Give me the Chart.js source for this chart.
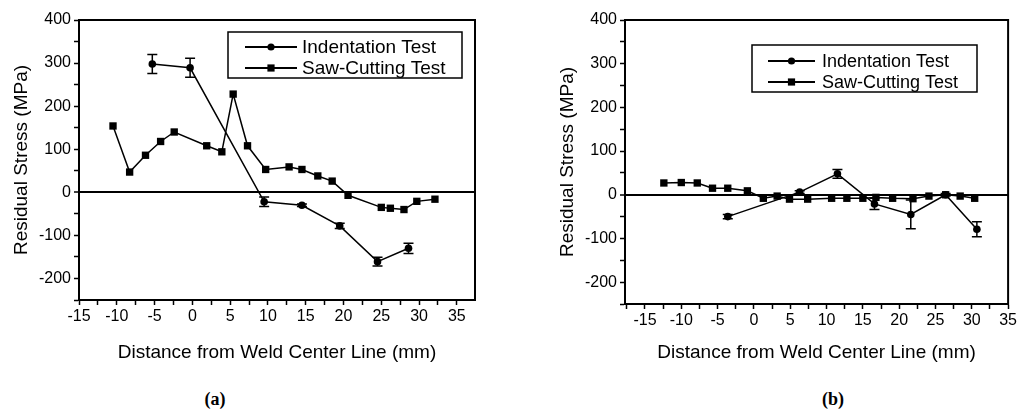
<!DOCTYPE html>
<html><head><meta charset="utf-8">
<script src="https://cdn.jsdelivr.net/npm/chart.js@4.4.0/dist/chart.umd.min.js"></script>
<style>
html,body{margin:0;padding:0;background:#fff;width:1019px;height:412px;overflow:hidden;}
#wa{position:absolute;left:0;top:0;width:500px;height:370px;}
#wb{position:absolute;left:546px;top:0;width:473px;height:370px;}
.cap{position:absolute;font-family:"Liberation Serif","Times New Roman",serif;font-weight:bold;font-size:18px;color:#000;transform:translateX(-50%);line-height:20px;}
</style></head>
<body>
<div id="wa"><canvas id="ca"></canvas></div>
<div id="wb"><canvas id="cb"></canvas></div>
<div class="cap" style="left:215px;top:389px">(a)</div>
<div class="cap" style="left:833px;top:389px">(b)</div>
<script>
// ---------- data ----------
const seriesNames = ["Indentation Test", "Saw-Cutting Test"];
const xTitle = "Distance from Weld Center Line (mm)";
const yTitle = "Residual Stress (MPa)";
const xTickValues = [-15, -10, -5, 0, 5, 10, 15, 20, 25, 30, 35];
const yTickValues = [-200, -100, 0, 100, 200, 300, 400];

// panel (a)
const aIndentX = [-5.3, -0.3, 9.5, 14.5, 19.5, 24.5, 28.6];
const aIndentY = [298, 289, -22, -30, -78, -161, -130];
const aIndentErr = [22, 22, 11, 3, 6, 10, 12];
const aSawX = [-10.5, -8.3, -6.2, -4.2, -2.4, 1.9, 3.9, 5.4, 7.3, 9.7, 12.8, 14.5, 16.6, 18.5, 20.6, 25.0, 26.2, 28.0, 29.7, 32.1];
const aSawY = [154, 47, 86, 118, 140, 108, 94, 228, 108, 53, 59, 53, 38, 26, -7, -35, -37, -40, -21, -16];

// panel (b)
const bIndentX = [-3.6, 6.3, 11.5, 16.6, 21.6, 26.4, 30.7];
const bIndentY = [-50, 6, 48, -21, -45, 0, -79];
const bIndentErr = [5, 3, 10, 13, 33, 3, 17];
const bSawX = [-12.4, -10.0, -7.8, -5.7, -3.6, -0.9, 1.3, 3.2, 4.9, 7.4, 10.7, 12.8, 15.0, 16.8, 19.1, 21.9, 24.1, 26.4, 28.4, 30.4];
const bSawY = [27, 28, 27, 15, 15, 9, -8, -3, -10, -10, -8, -8, -8, -6, -8, -9, -3, 0, -3, -8];

// ---------- helpers ----------
const FONT = '"Liberation Sans", Arial, Helvetica, sans-serif';
const zip = (xs, ys) => xs.map((x, i) => ({x: x, y: ys[i]}));

function drawMarker(ctx, style, x, y) {
  ctx.beginPath();
  if (style === 'circle') { ctx.arc(x, y, 3.6, 0, Math.PI * 2); }
  else { ctx.rect(x - 3.6, y - 3.6, 7.2, 7.2); }
  ctx.fill();
}

const decorPlugin = {
  id: 'decor',
  afterDatasetsDraw(chart) {
    const ctx = chart.ctx;
    const xs = chart.scales.x, ys = chart.scales.y;
    ctx.save();
    ctx.strokeStyle = '#000';
    ctx.lineWidth = 1.5;
    chart.data.datasets.forEach((ds, i) => {
      if (!ds.errors) return;
      ds.data.forEach((p, j) => {
        const e = ds.errors[j];
        const px = xs.getPixelForValue(p.x);
        const y1 = ys.getPixelForValue(p.y + e);
        const y2 = ys.getPixelForValue(p.y - e);
        ctx.beginPath();
        ctx.moveTo(px, y1); ctx.lineTo(px, y2);
        ctx.moveTo(px - 5, y1); ctx.lineTo(px + 5, y1);
        ctx.moveTo(px - 5, y2); ctx.lineTo(px + 5, y2);
        ctx.stroke();
      });
    });
    ctx.restore();
  },
  afterDraw(chart, args, opts) {
    const ctx = chart.ctx;
    const a = chart.chartArea;
    ctx.save();
    ctx.strokeStyle = '#000';
    ctx.lineWidth = 2;
    ctx.strokeRect(a.left, a.top, a.right - a.left, a.bottom - a.top);
    // legend
    const L = opts.legend;
    if (L) {
      ctx.fillStyle = '#fff';
      ctx.fillRect(L.box[0], L.box[1], L.box[2] - L.box[0], L.box[3] - L.box[1]);
      ctx.font = L.fontSize + 'px ' + FONT;
      ctx.textBaseline = 'middle';
      ctx.textAlign = 'left';
      chart.data.datasets.forEach((ds, i) => {
        const y = L.rows[i];
        ctx.strokeStyle = '#000'; ctx.lineWidth = 1.8;
        ctx.beginPath(); ctx.moveTo(L.line[0], y); ctx.lineTo(L.line[1], y); ctx.stroke();
        ctx.fillStyle = '#000';
        drawMarker(ctx, ds.pointStyle, (L.line[0] + L.line[1]) / 2, y);
        ctx.fillText(ds.label, L.textX, y + 1);
      });
      ctx.lineWidth = 1.5;
      ctx.strokeRect(L.box[0], L.box[1], L.box[2] - L.box[0], L.box[3] - L.box[1]);
    }
    ctx.restore();
  }
};

function makeChart(id, indX, indY, indErr, sawX, sawY, xmin, xmax, padRight, xHeight, legend) {
  return new Chart(document.getElementById(id), {
    type: 'line',
    data: {
      datasets: [
        {label: seriesNames[0], data: zip(indX, indY), errors: indErr,
         borderColor: '#000', backgroundColor: '#000', borderWidth: 1.5,
         pointStyle: 'circle', pointRadius: 3.8, pointBorderWidth: 0, tension: 0},
        {label: seriesNames[1], data: zip(sawX, sawY),
         borderColor: '#000', backgroundColor: '#000', borderWidth: 1.5,
         pointStyle: 'rect', pointRadius: 5.2, pointBorderWidth: 0, tension: 0}
      ]
    },
    options: {
      responsive: true,
      maintainAspectRatio: false,
      animation: false,
      layout: {padding: {left: 0, top: 20, right: padRight, bottom: 0}},
      plugins: {legend: {display: false}, tooltip: {enabled: false}, decor: {legend: legend}},
      scales: {
        x: {
          type: 'linear', min: xmin, max: xmax,
          afterFit: (s) => { s.height = xHeight; },
          border: {display: true, color: '#000', width: 2},
          grid: {drawOnChartArea: false, drawTicks: true, tickLength: 5, tickColor: '#000', tickWidth: 1.5, color: '#000'},
          ticks: {stepSize: 2.5, includeBounds: false, autoSkip: false, maxRotation: 0, maxTicksLimit: 100,
                  padding: 2, color: '#000', font: {family: FONT, size: 16},
                  callback: (v) => xTickValues.some(t => Math.abs(t - v) < 1e-6) ? String(Math.round(v)) : ''},
          title: {display: true, text: xTitle, color: '#000', font: {family: FONT, size: 19},
                  padding: {top: 0, bottom: 5.6}}
        },
        y: {
          type: 'linear', min: -250, max: 400,
          afterFit: (s) => { s.width = 79; },
          border: {display: true, color: '#000', width: 2},
          grid: {drawOnChartArea: true, drawTicks: true, tickLength: 5, tickColor: '#000', tickWidth: 1.5,
                 color: (c) => (c.tick && c.tick.value === 0) ? '#000' : 'rgba(0,0,0,0)',
                 lineWidth: (c) => (c.tick && c.tick.value === 0) ? 2 : 1},
          ticks: {stepSize: 50, autoSkip: false, maxTicksLimit: 100, padding: 3, color: '#000',
                  font: {family: FONT, size: 16},
                  callback: (v) => yTickValues.includes(v) ? String(v) : ''},
          title: {display: true, text: yTitle, color: '#000', font: {family: FONT, size: 19},
                  padding: {top: 10.6, bottom: 0}}
        }
      }
    },
    plugins: [decorPlugin]
  });
}

makeChart('ca', aIndentX, aIndentY, aIndentErr, aSawX, aSawY, -15, 37.4, 25, 70,
  {box: [228, 32, 462, 78], line: [245, 297], rows: [47, 68], textX: 302, fontSize: 19});
makeChart('cb', bIndentX, bIndentY, bIndentErr, bSawX, bSawY, -17.75, 35, 9, 66,
  {box: [206, 45, 431, 92], line: [222, 269], rows: [61, 82], textX: 276, fontSize: 18});
</script>
</body></html>
